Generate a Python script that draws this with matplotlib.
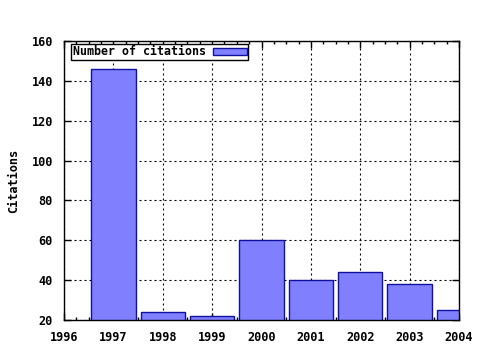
import matplotlib
matplotlib.use("Agg")
import matplotlib.pyplot as plt
import numpy as np

# citations per year
years = [1997, 1998, 1999, 2000, 2001, 2002, 2003, 2004]
citations = [146, 24, 22, 60, 40, 44, 38, 25]
xticks = [1996, 1997, 1998, 1999, 2000, 2001, 2002, 2003, 2004]
yticks = [20, 40, 60, 80, 100, 120, 140, 160]

plt.rcParams['font.family'] = 'DejaVu Sans Mono'
plt.rcParams['font.weight'] = 'bold'
plt.rcParams['font.size'] = 8

fig = plt.figure(figsize=(4.8, 3.5), dpi=100)
ax = fig.add_axes([64 / 480, 30 / 350, 395 / 480, 279 / 350])

ax.bar(years, citations, width=0.9, bottom=0, color='#8080ff',
       edgecolor='#1010a0', linewidth=1.0, label='Number of citations', zorder=2)

ax.set_xlim(1996, 2004)
ax.set_ylim(20, 160)
ax.set_xticks(xticks)
ax.set_yticks(yticks)
ax.set_xticks(np.arange(1996, 2004.01, 0.25), minor=True)
ax.tick_params(which='both', direction='in', top=True, right=True, width=1)
ax.tick_params(which='major', length=5, labelsize=8.6)
ax.tick_params(axis='x', which='major', pad=8)
ax.tick_params(axis='y', which='major', pad=8)
ax.tick_params(which='minor', length=2.5)
for lab in ax.get_xticklabels() + ax.get_yticklabels():
    lab.set_fontweight('bold')

ax.grid(True, which='major', color='black', linestyle=(0, (1.8, 2.7)), linewidth=0.8, zorder=1)
ax.set_ylabel('Citations', fontsize=8.6, fontweight='bold', labelpad=8)
for s in ax.spines.values():
    s.set_linewidth(1)

leg = ax.legend(loc='upper left', bbox_to_anchor=(0.015, 0.995), fancybox=False,
                edgecolor='black', framealpha=1, borderpad=0.15, handlelength=2.9,
                handleheight=0.55, handletextpad=0.6, markerfirst=False, borderaxespad=0.1,
                prop={'weight': 'bold', 'size': 8.4})
leg.get_frame().set_linewidth(1)

fig.savefig('out.png', dpi=100)
